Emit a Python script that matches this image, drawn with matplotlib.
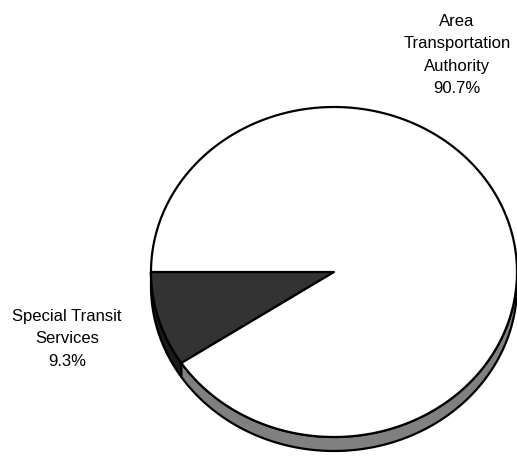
import numpy as np
import matplotlib.pyplot as plt
from matplotlib.patches import Polygon

plt.rcParams['font.family'] = ['Liberation Sans', 'DejaVu Sans']

labels = ["Area\nTransportation\nAuthority", "Special Transit\nServices"]
values = [90.7, 9.3]
top_colors = ["#ffffff", "#333333"]
side_colors = ["#808080", "#1a1a1a"]

# geometry in pixel units
cx, cy = 334, 273
rx, ry = 183, 165
depth = 14
start = 180.0  # dark slice starts at the left edge, goes counter-clockwise (down)

fig = plt.figure(figsize=(5.17, 4.6), dpi=100)
ax = fig.add_axes([0, 0, 1, 1])
ax.set_xlim(0, 517)
ax.set_ylim(460, 0)
ax.axis('off')


def pt(theta, dz=0):
    t = np.radians(theta)
    return cx + rx * np.cos(t), cy - ry * np.sin(t) + dz


# slices: dark one first from 180 deg, then white
order = [1, 0]
spans = []
a = start
for i in order:
    sweep = values[i] / sum(values) * 360
    spans.append((i, a, a + sweep))
    a += sweep

# side walls (visible front: 180..360)
for i, a0, a1 in spans:
    lo, hi = max(a0, 180), min(a1, 360)
    if hi <= lo:
        continue
    th = np.linspace(lo, hi, 200)
    upper = [pt(t) for t in th]
    lower = [pt(t, depth) for t in th[::-1]]
    ax.add_patch(Polygon(upper + lower, closed=True, facecolor=side_colors[i],
                         edgecolor='black', linewidth=1.6, joinstyle='round'))

# top faces
for i, a0, a1 in spans:
    th = np.linspace(a0, a1, 400)
    pts = [(cx, cy)] + [pt(t) for t in th]
    ax.add_patch(Polygon(pts, closed=True, facecolor=top_colors[i],
                         edgecolor='black', linewidth=1.6, joinstyle='round'))

ax.text(457, 55, labels[0] + "\n%.1f%%" % values[0], ha='center', va='center',
        fontsize=12, linespacing=1.62)
ax.text(67, 339, labels[1] + "\n%.1f%%" % values[1], ha='center', va='center',
        fontsize=12, linespacing=1.62)

fig.savefig('out.png', dpi=100)
